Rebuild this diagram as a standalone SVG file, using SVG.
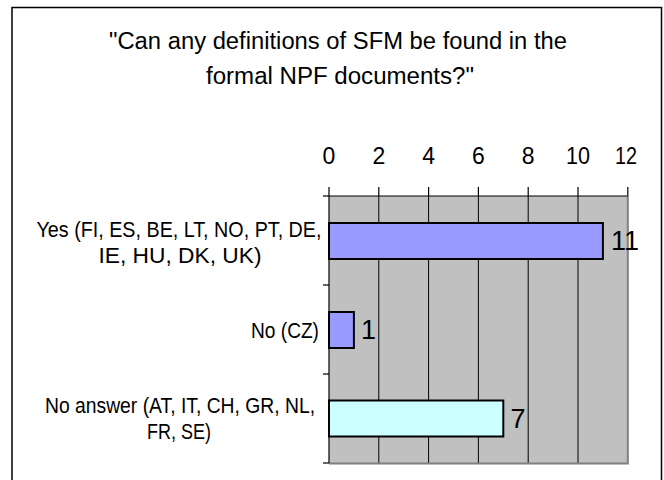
<svg xmlns="http://www.w3.org/2000/svg" width="664" height="480" viewBox="0 0 664 480">
<style>
text{font-family:"Liberation Sans",Arial,sans-serif;fill:#000}
.title{font-size:23.5px;text-anchor:middle}
.ax{font-size:23px;text-anchor:middle}
.cat{font-size:22.5px;text-anchor:middle}
.val{font-size:27px}
.grid{stroke:#000;stroke-width:1}
.bar{stroke:#000;stroke-width:2}
</style>
<rect x="0" y="0" width="664" height="480" fill="#fff"/>
<path d="M12 490 V7.5 H661.5 V490" fill="none" stroke="#000" stroke-width="1.5"/>
<g id="title">
<text class="title" x="338" y="49" textLength="458" lengthAdjust="spacingAndGlyphs">"Can any definitions of SFM be found in the</text>
<text class="title" x="340" y="84" textLength="268" lengthAdjust="spacingAndGlyphs">formal NPF documents?"</text>
</g>
<g id="plot">
<rect x="329" y="196" width="298.8" height="267" fill="#C0C0C0"/>
<g class="grid">
<line x1="378.8" y1="196" x2="378.8" y2="463"/>
<line x1="428.6" y1="196" x2="428.6" y2="463"/>
<line x1="478.4" y1="196" x2="478.4" y2="463"/>
<line x1="528.2" y1="196" x2="528.2" y2="463"/>
<line x1="578" y1="196" x2="578" y2="463"/>
</g>
<path d="M627.8 196 V463.5 H329" fill="none" stroke="#808080" stroke-width="2"/>
</g>
<g id="bars">
<rect class="bar" x="329" y="223" width="273.9" height="36" fill="#9999FF"/>
<rect class="bar" x="329" y="312" width="24.9" height="36" fill="#9999FF"/>
<rect class="bar" x="329" y="400.5" width="174.3" height="36" fill="#CCFFFF"/>
</g>
<g id="axes" stroke="#000" stroke-width="1.2" fill="none">
<line x1="329" y1="196" x2="627.8" y2="196"/>
<line x1="329" y1="187" x2="329" y2="463"/>
<line x1="378.8" y1="187" x2="378.8" y2="196"/>
<line x1="428.6" y1="187" x2="428.6" y2="196"/>
<line x1="478.4" y1="187" x2="478.4" y2="196"/>
<line x1="528.2" y1="187" x2="528.2" y2="196"/>
<line x1="578" y1="187" x2="578" y2="196"/>
<line x1="627.8" y1="187" x2="627.8" y2="196"/>
<line x1="323" y1="196" x2="329" y2="196"/>
<line x1="323" y1="285" x2="329" y2="285"/>
<line x1="323" y1="374" x2="329" y2="374"/>
<line x1="323" y1="463" x2="329" y2="463"/>
</g>
<g id="axis-labels">
<text class="ax" x="329" y="164">0</text>
<text class="ax" x="378.8" y="164">2</text>
<text class="ax" x="428.6" y="164">4</text>
<text class="ax" x="478.4" y="164">6</text>
<text class="ax" x="528.2" y="164">8</text>
<text class="ax" x="578" y="164" textLength="24" lengthAdjust="spacingAndGlyphs">10</text>
<text class="ax" x="626" y="164" textLength="22" lengthAdjust="spacingAndGlyphs">12</text>
</g>
<g id="category-labels">
<text class="cat" x="179" y="237" textLength="285" lengthAdjust="spacingAndGlyphs">Yes (FI, ES, BE, LT, NO, PT, DE,</text>
<text class="cat" x="180" y="263" textLength="163" lengthAdjust="spacingAndGlyphs">IE, HU, DK, UK)</text>
<text class="cat" x="285" y="338" textLength="68" lengthAdjust="spacingAndGlyphs">No (CZ)</text>
<text class="cat" x="180" y="413" textLength="270" lengthAdjust="spacingAndGlyphs">No answer (AT, IT, CH, GR, NL,</text>
<text class="cat" x="179" y="438.5" textLength="64" lengthAdjust="spacingAndGlyphs">FR, SE)</text>
</g>
<g id="value-labels">
<text class="val" x="611" y="249.5">11</text>
<text class="val" x="361" y="339">1</text>
<text class="val" x="510.5" y="427.5">7</text>
</g>
</svg>
